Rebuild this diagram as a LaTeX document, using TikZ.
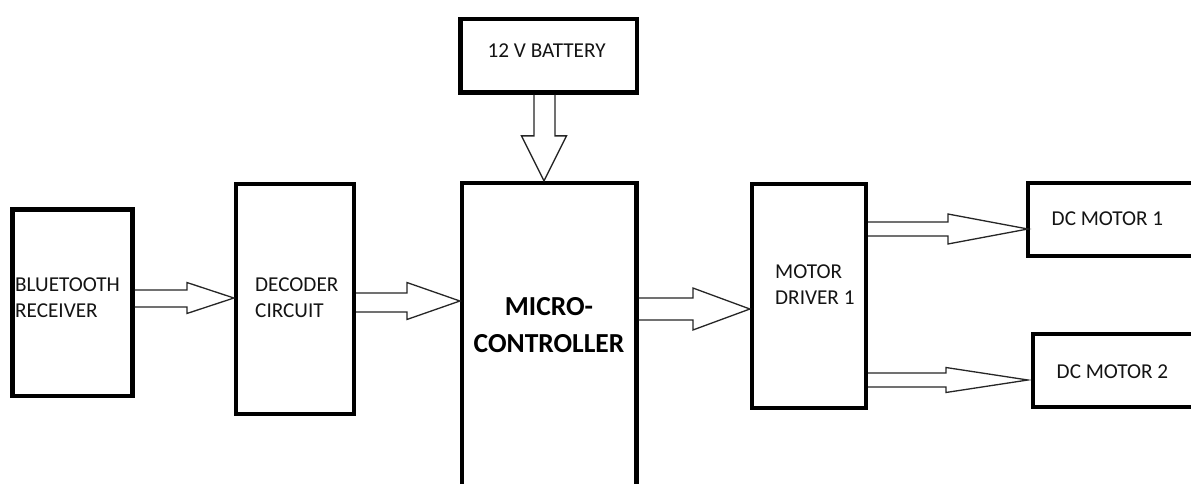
\documentclass[tikz,border=0pt]{standalone}
\usepackage{fontspec}
\setmainfont{Carlito}
\usetikzlibrary{calc}
\tikzset{
  box/.style={draw=black, line width=4.2pt, rectangle, inner sep=0pt, fill=white},
  lbl/.style={inner sep=0pt, anchor=base west, align=left, text=black!92,
    font=\fontsize{21.2}{26}\selectfont},
  biglbl/.style={inner sep=0pt, anchor=base, align=center, text=black,
    font=\fontsize{27.5}{37}\selectfont\bfseries},
  blockarrow/.style={draw=black!85, line width=1.3pt, line join=miter}
}
\newcommand\harrow[5]{%
  \draw[blockarrow] let \p1=(#1), \p2=(#2) in
    (\x1,\y1+#3pt) -- (\x2-#5pt,\y1+#3pt) -- (\x2-#5pt,\y2+#4pt) -- (\p2)
    -- (\x2-#5pt,\y2-#4pt) -- (\x2-#5pt,\y1-#3pt) -- (\x1,\y1-#3pt);}
\newcommand\varrow[5]{%
  \draw[blockarrow] let \p1=(#1), \p2=(#2) in
    (\x1+#3pt,\y1) -- (\x1+#3pt,\y2+#5pt) -- (\x2+#4pt,\y2+#5pt) -- (\p2)
    -- (\x2-#4pt,\y2+#5pt) -- (\x1-#3pt,\y2+#5pt) -- (\x1-#3pt,\y1);}
\begin{document}
\begin{tikzpicture}[x=1pt,y=-1pt]
\clip (0,0) rectangle (1191,484);
\fill[white] (0,0) rectangle (1191,484);

% boxes
\node[box, minimum width=120pt, minimum height=186.5pt] (bt) at (72.5,302.75) {};
\node[box, minimum width=118pt, minimum height=230pt] (dec) at (295,299) {};
\node[box, minimum width=174.5pt, minimum height=337pt] (mc) at (549.25,351.5) {};
\node[box, minimum width=176.5pt, minimum height=73.5pt] (bat) at (548.75,55.75) {};
\node[box, minimum width=114pt, minimum height=224pt] (drv) at (809,296) {};
\node[box, minimum width=192pt, minimum height=73pt] (dc1) at (1124,219.5) {};
\node[box, minimum width=187pt, minimum height=73pt] (dc2) at (1126.5,370.5) {};

% labels (base = baseline of the last line)
\node[lbl] (bt-t) at (15,317.7) {BLUETOOTH\\RECEIVER};
\node[lbl] (dec-t) at (255,317) {DECODER\\CIRCUIT};
\node[biglbl] (mc-t) at (549,352) {MICRO-\\CONTROLLER};
\node[lbl] (bat-t) at (487.5,57.3) {12 V BATTERY};
\node[lbl] (drv-t) at (775,304) {MOTOR\\DRIVER 1};
\node[lbl] (dc1-t) at (1051.5,225) {DC MOTOR 1};
\node[lbl] (dc2-t) at (1056.5,378) {DC MOTOR 2};

% connectors (hollow block arrows)
\coordinate (a1s) at (bt.east |- 0,298.5);
\coordinate (a1t) at (dec.west |- 0,298);
\harrow{a1s}{a1t}{8.5}{15.5}{47}
\coordinate (a2s) at (dec.east |- 0,302.5);
\coordinate (a2t) at (mc.west |- 0,301);
\harrow{a2s}{a2t}{9.5}{18.5}{53}
\coordinate (a3s) at (bat.south -| 544.5,0);
\coordinate (a3t) at (mc.north -| 544,0);
\varrow{a3s}{a3t}{10.5}{22.5}{45}
\coordinate (a4s) at (mc.east |- 0,309);
\coordinate (a4t) at (drv.west |- 0,309);
\harrow{a4s}{a4t}{11}{21}{57}
\coordinate (a5s) at (drv.east |- 0,229);
\coordinate (a5t) at ($(dc1.west |- 0,229)+(2,0)$);
\harrow{a5s}{a5t}{7}{15}{80}
\coordinate (a6s) at (drv.east |- 0,380);
\coordinate (a6t) at ($(dc2.west |- 0,380)+(-3,0)$);
\harrow{a6s}{a6t}{7}{12.5}{82}
\end{tikzpicture}
\end{document}
